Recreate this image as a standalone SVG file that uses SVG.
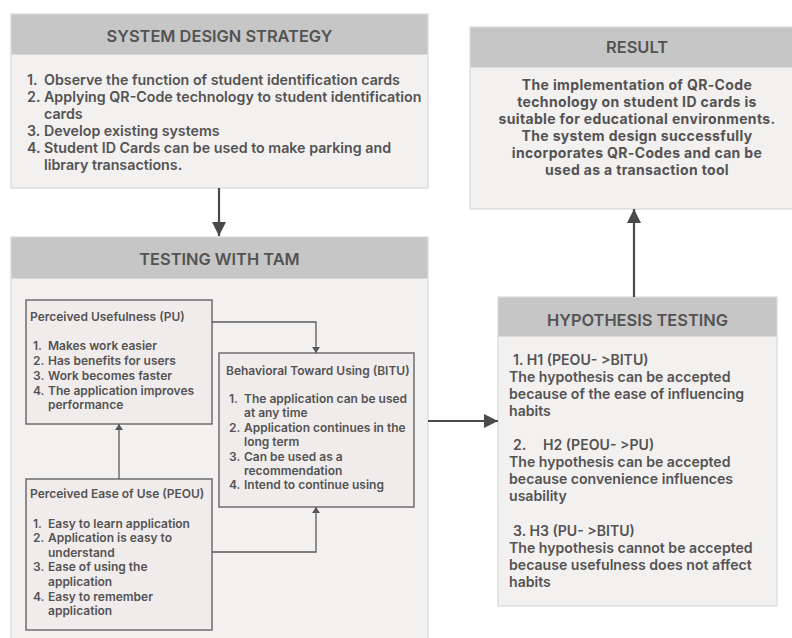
<svg xmlns="http://www.w3.org/2000/svg" width="792" height="638" viewBox="0 0 792 638">
<defs>
<marker id="bigArrow" markerUnits="userSpaceOnUse" markerWidth="14" markerHeight="14" refX="14" refY="7" orient="auto">
<path d="M0,0 L14,7 L0,14 z" fill="#4a4a4a"/>
</marker>
<marker id="smallArrow" markerUnits="userSpaceOnUse" markerWidth="7" markerHeight="8" refX="6" refY="4" orient="auto">
<path d="M0,0 L6,4 L0,8 z" fill="#555"/>
</marker>
</defs>
<style>
text{font-family:Inter,"Liberation Sans",sans-serif;fill:#535353;font-weight:600}
.outer{fill:#f3f0f0;stroke:#d2d2d2;stroke-width:1}
.head{fill:#c6c6c6}
.title{font-size:16.4px;text-anchor:middle}
.body{font-size:14.25px}
.res{font-size:14px;font-weight:700;letter-spacing:0.35px;text-anchor:middle}
.inner{fill:#f1ecec;stroke:#6e6e6e;stroke-width:1.5}
.small{font-size:12px}
.hyp{font-size:14.1px}
.big{stroke:#4a4a4a;stroke-width:2.2;fill:none}
.thin{stroke:#5a5a5a;stroke-width:1.3;fill:none}
</style>
<rect width="792" height="638" fill="#ffffff"/>

<g id="sds">
<rect class="outer" x="11" y="14" width="417" height="174"/>
<rect class="head" x="11.5" y="14.5" width="416" height="40"/>
<text class="title" x="219.5" y="42">SYSTEM DESIGN STRATEGY</text>
<text class="body" x="27" y="85">1.</text><text class="body" x="44" y="85">Observe the function of student identification cards</text>
<text class="body" x="27" y="102">2.</text><text class="body" x="44" y="102">Applying QR-Code technology to student identification</text>
<text class="body" x="44" y="119">cards</text>
<text class="body" x="27" y="136">3.</text><text class="body" x="44" y="136">Develop existing systems</text>
<text class="body" x="27" y="153">4.</text><text class="body" x="44" y="153">Student ID Cards can be used to make parking and</text>
<text class="body" x="44" y="170">library transactions.</text>
</g>

<g id="tam">
<rect class="outer" x="11" y="237" width="417" height="402"/>
<rect class="head" x="11.5" y="237.5" width="416" height="41"/>
<text class="title" x="219.5" y="265">TESTING WITH TAM</text>
</g>

<g id="pu">
<rect class="inner" x="26" y="300" width="186" height="124"/>
<text class="small" x="30" y="321">Perceived Usefulness (PU)</text>
<text class="small" x="33" y="350">1.</text><text class="small" x="48" y="350">Makes work easier</text>
<text class="small" x="33" y="365">2.</text><text class="small" x="48" y="365">Has benefits for users</text>
<text class="small" x="33" y="380">3.</text><text class="small" x="48" y="380">Work becomes faster</text>
<text class="small" x="33" y="395">4.</text><text class="small" x="48" y="395">The application improves</text>
<text class="small" x="48" y="409">performance</text>
</g>

<g id="bitu">
<rect class="inner" x="219" y="353" width="195" height="154"/>
<text class="small" x="226" y="375">Behavioral Toward Using (BITU)</text>
<text class="small" x="229" y="403">1.</text><text class="small" x="244" y="403">The application can be used</text>
<text class="small" x="244" y="417">at any time</text>
<text class="small" x="229" y="432">2.</text><text class="small" x="244" y="432">Application continues in the</text>
<text class="small" x="244" y="446">long term</text>
<text class="small" x="229" y="461">3.</text><text class="small" x="244" y="461">Can be used as a</text>
<text class="small" x="244" y="475">recommendation</text>
<text class="small" x="229" y="489">4.</text><text class="small" x="244" y="489">Intend to continue using</text>
</g>

<g id="peou">
<rect class="inner" x="26" y="479" width="186" height="151"/>
<text class="small" x="30" y="498">Perceived Ease of Use (PEOU)</text>
<text class="small" x="33" y="528">1.</text><text class="small" x="48" y="528">Easy to learn application</text>
<text class="small" x="33" y="542">2.</text><text class="small" x="48" y="542">Application is easy to</text>
<text class="small" x="48" y="557">understand</text>
<text class="small" x="33" y="571">3.</text><text class="small" x="48" y="571">Ease of using the</text>
<text class="small" x="48" y="586">application</text>
<text class="small" x="33" y="601">4.</text><text class="small" x="48" y="601">Easy to remember</text>
<text class="small" x="48" y="615">application</text>
</g>

<g id="hypothesis">
<rect class="outer" x="498" y="297" width="279" height="309"/>
<rect class="head" x="498.5" y="297.5" width="278" height="39"/>
<text class="title" x="637.5" y="326">HYPOTHESIS TESTING</text>
<text class="hyp" x="513" y="365">1. H1 (PEOU- &gt;BITU)</text>
<text class="hyp" x="509" y="382">The hypothesis can be accepted</text>
<text class="hyp" x="509" y="399">because of the ease of influencing</text>
<text class="hyp" x="509" y="416">habits</text>
<text class="hyp" x="513" y="450">2.</text><text class="hyp" x="543" y="450">H2 (PEOU- &gt;PU)</text>
<text class="hyp" x="509" y="467">The hypothesis can be accepted</text>
<text class="hyp" x="509" y="484">because convenience influences</text>
<text class="hyp" x="509" y="501">usability</text>
<text class="hyp" x="513" y="536">3. H3 (PU- &gt;BITU)</text>
<text class="hyp" x="509" y="553">The hypothesis cannot be accepted</text>
<text class="hyp" x="509" y="570">because usefulness does not affect</text>
<text class="hyp" x="509" y="587">habits</text>
</g>

<g id="result">
<rect class="outer" x="470" y="27" width="330" height="182"/>
<rect class="head" x="470.5" y="27.5" width="330" height="40"/>
<text class="title" x="637" y="53">RESULT</text>
<text class="res" x="637" y="90">The implementation of QR-Code</text>
<text class="res" x="637" y="107">technology on student ID cards is</text>
<text class="res" x="637" y="124">suitable for educational environments.</text>
<text class="res" x="637" y="141">The system design successfully</text>
<text class="res" x="637" y="158">incorporates QR-Codes and can be</text>
<text class="res" x="637" y="175">used as a transaction tool</text>
</g>

<g id="connectors">
<path class="big" d="M219,188 L219,236" marker-end="url(#bigArrow)"/>
<path class="big" d="M634,297 L634,209" marker-end="url(#bigArrow)"/>
<path class="big" d="M428,421 L498,421" marker-end="url(#bigArrow)"/>
<path class="thin" d="M212,322 L316,322 L316,353" marker-end="url(#smallArrow)"/>
<path class="thin" d="M119,479 L119,424" marker-end="url(#smallArrow)"/>
<path class="thin" d="M212,552 L316,552 L316,507" marker-end="url(#smallArrow)"/>
</g>
</svg>
